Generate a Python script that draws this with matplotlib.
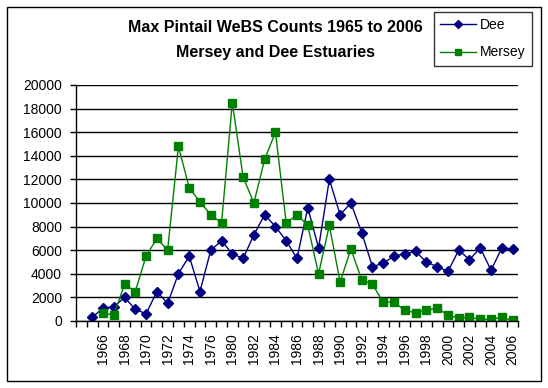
import numpy as np
import matplotlib
matplotlib.use("Agg")
import matplotlib.pyplot as plt
from matplotlib.patches import Rectangle

plt.rcParams['font.family'] = ['Liberation Sans', 'DejaVu Sans']

# categories (first one is an empty slot, 1977/1979 not in the series)
years = [''] + [str(y) for y in range(1965, 1977)] + ['1978'] + [str(y) for y in range(1980, 2007)]

nan = np.nan
dee = [nan, 300, 1100, 1200, 2000, 1000, 600, 2500, 1500, 4000, 5500, 2500, 6000,
       6800,
       5700, 5300, 7300, 9000, 8000, 6800, 5300, 9600, 6200, 12000, 9000, 10000, 7500,
       4600, 4900, 5500, 5700, 5900, 5000, 4600, 4200, 6000, 5200, 6200, 4300, 6200, 6100]
mersey = [nan, nan, 700, 500, 3100, 2500, 5500, 7000, 6000, 14800, 11300, 10100, 9000,
          8300,
          18500, 12200, 10000, 13700, 16000, 8300, 9000, 8100, 4000, 8100, 3300, 6100, 3500,
          3100, 1600, 1600, 900, 700, 900, 1100, 500, 250, 300, 150, 150, 300, 50]

W, H = 548, 388
fig = plt.figure(figsize=(W / 100, H / 100), dpi=100)
ax = fig.add_axes([76 / W, 1 - 321 / H, (518 - 76) / W, (321 - 85) / H])

x = np.arange(len(years))
ax.plot(x, dee, color='#000080', lw=1, marker='D', ms=4.8, label='Dee')
ax.plot(x, mersey, color='#008000', lw=1, marker='s', ms=5.8, label='Mersey')

ax.set_xlim(-0.5, len(years) - 0.5)
ax.set_ylim(0, 20000)
ax.set_yticks(range(0, 20001, 2000))
ax.yaxis.grid(True, color='black', lw=1)
ax.set_axisbelow(True)

# labels on every other category, tick marks between categories
ax.set_xticks(x[::2])
ax.set_xticklabels(years[::2], rotation=90, fontsize=10)
ax.set_xticks(np.arange(-0.5, len(years), 1), minor=True)
ax.tick_params(axis='x', which='major', length=0, pad=9)
ax.tick_params(axis='x', which='minor', length=4, width=1, color='black')
ax.tick_params(axis='y', length=4, width=1, labelsize=10, pad=6)

for s in ['top', 'right']:
    ax.spines[s].set_visible(False)
for s in ['left', 'bottom']:
    ax.spines[s].set_linewidth(1)

fig.text(275 / W, 1 - 28 / H, 'Max Pintail WeBS Counts 1965 to 2006',
         ha='center', va='center', fontsize=11.5, fontweight='bold')
fig.text(275 / W, 1 - 52 / H, 'Mersey and Dee Estuaries',
         ha='center', va='center', fontsize=11.5, fontweight='bold')

leg = fig.legend(loc='upper left', bbox_to_anchor=(434 / W, 1 - 12 / H),
                 fontsize=10, frameon=True, fancybox=False, edgecolor='black',
                 handlelength=2.6, labelspacing=0.95, borderpad=0.45,
                 handletextpad=0.25, borderaxespad=0, markerscale=0.85)
leg.get_frame().set_linewidth(1)

fig.patches.append(Rectangle((7 / W, 1 - 381 / H), (541 - 7) / W, (381 - 7) / H,
                             transform=fig.transFigure, fill=False,
                             edgecolor='black', lw=1))

fig.savefig('out.png', dpi=100)
